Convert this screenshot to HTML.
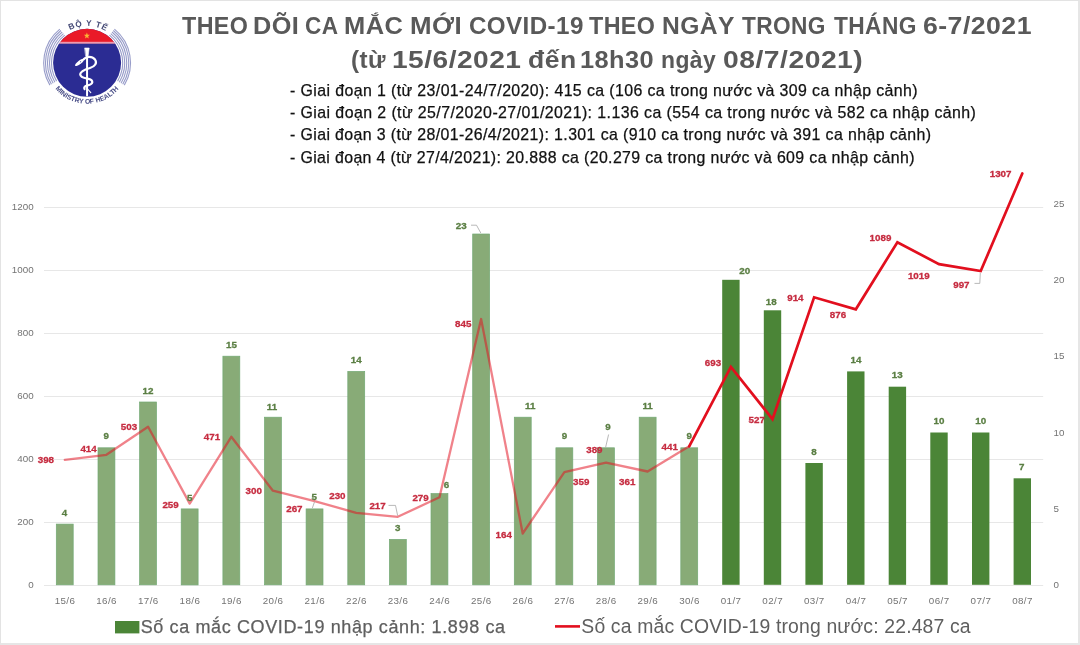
<!DOCTYPE html>
<html lang="vi">
<head>
<meta charset="utf-8">
<title>Theo dõi ca mắc mới COVID-19</title>
<style>
html,body{margin:0;padding:0;}
body{width:1080px;height:645px;overflow:hidden;background:#fff;font-family:"Liberation Sans",sans-serif;}
.frame{position:absolute;left:0;top:0;width:1080px;height:645px;box-sizing:border-box;background:#fff;
  border-top:1px solid #e3e3e3;border-left:1.5px solid #e3e3e3;border-right:2px solid #e6e6e6;border-bottom:2.5px solid #e6e6e6;}
#wrap{position:absolute;left:0;top:0;width:1080px;height:645px;will-change:transform;filter:blur(0.4px);}
.chart{position:absolute;left:0;top:0;}
.chart text{font-family:"Liberation Sans",sans-serif;}
.ax{font-size:9.8px;fill:#737373;}
.xl{letter-spacing:0.4px;}
.dl{font-size:9.8px;font-weight:bold;stroke-width:0.3px;}
.g{fill:#5b7f44;stroke:#5b7f44;}
.r{fill:#c62c40;stroke:#c62c40;}
.t{position:absolute;white-space:nowrap;transform-origin:0 0;line-height:1;}
.title{font-weight:bold;color:#595959;font-size:23px;}
.body{color:#111;font-size:15.8px;-webkit-text-stroke:0.25px #111;}
.leg{color:#5f5f5f;font-size:18px;}
#l1{-webkit-text-stroke:0.25px #5f5f5f;}
.logo{position:absolute;left:32px;top:13px;}
</style>
</head>
<body>
<div id="wrap">
<div class="frame"></div>
<svg class="logo" width="110" height="100" viewBox="32 13 110 100">
<defs>
<clipPath id="disc"><circle cx="87.1" cy="62.8" r="34"/></clipPath>
<path id="arcTop" d="M 55.14 44.35 A 36.9 36.9 0 0 1 119.06 44.35"/>
<path id="arcBot" d="M 48.57 76.82 A 41.0 41.0 0 0 0 125.63 76.82"/>
</defs>
<g fill="none" stroke="#979cc9" stroke-width="1.1">
<path d="M 64.70 35.13 A 35.6 35.6 0 0 0 56.58 81.14"/>
<path d="M 109.50 35.13 A 35.6 35.6 0 0 1 117.62 81.14"/>
<path d="M 63.44 33.58 A 37.6 37.6 0 0 0 54.87 82.17"/>
<path d="M 110.76 33.58 A 37.6 37.6 0 0 1 119.33 82.17"/>
<path d="M 62.18 32.03 A 39.6 39.6 0 0 0 53.16 83.20"/>
<path d="M 112.02 32.03 A 39.6 39.6 0 0 1 121.04 83.20"/>
<path d="M 60.92 30.47 A 41.6 41.6 0 0 0 51.44 84.23"/>
<path d="M 113.28 30.47 A 41.6 41.6 0 0 1 122.76 84.23"/>
<path d="M 59.79 29.07 A 43.4 43.4 0 0 0 49.90 85.15"/>
<path d="M 114.41 29.07 A 43.4 43.4 0 0 1 124.30 85.15"/>
</g>
<g clip-path="url(#disc)">
<rect x="50" y="25" width="80" height="80" fill="#2b2c93"/>
<rect x="50" y="25" width="80" height="17" fill="#ea1a28"/>
<rect x="50" y="41.8" width="80" height="1.9" fill="#ee9aae"/>
</g>
<polygon fill="#fbb434" points="86.90,32.60 87.69,34.71 89.94,34.81 88.18,36.22 88.78,38.39 86.90,37.15 85.02,38.39 85.62,36.22 83.86,34.81 86.11,34.71"/>
<g fill="none" stroke="#fff" stroke-linecap="round" stroke-linejoin="round">
<path d="M 87.05 50 L 87.05 95.6" stroke-width="2"/>
<path d="M 84.9 48 L 89.2 48 L 88.1 56 L 86 56 Z" fill="#fff" stroke-width="0.6"/>
<path d="M 84 59 C 86 56.3, 92 55.8, 95 59.5 C 97.4 63, 95 66.5, 90 68 C 85 69.5, 80.5 71, 80.2 74.2 C 80.2 77, 84 78, 87.5 78.6 C 91 79.3, 92.5 80.5, 92.3 82.3 C 92 84.3, 89 85, 87 85.6 C 84.5 86.4, 83.6 87.6, 84.6 89" stroke-width="2.2"/>
<path d="M 87.6 89 L 90.8 92.6" stroke-width="1.1"/>
</g>
<ellipse cx="79.6" cy="62.4" rx="5.6" ry="1.75" fill="#fff" transform="rotate(-37.5 79.6 62.4)"/>
<circle cx="80.6" cy="61.7" r="0.55" fill="#2b2c93"/>
<text font-family="Liberation Sans, sans-serif" font-size="8.2" font-weight="bold" fill="#454a76"><textPath href="#arcTop" startOffset="51%" text-anchor="middle" textLength="37.4" lengthAdjust="spacing">BỘ Y TẾ</textPath></text>
<text font-family="Liberation Sans, sans-serif" font-size="6.9" font-weight="bold" fill="#474c86"><textPath href="#arcBot" startOffset="50%" text-anchor="middle" textLength="72.3" lengthAdjust="spacingAndGlyphs">MINISTRY OF HEALTH</textPath></text>
</svg>

<span class="t title" id="w0" style="left:181.50px;top:15.00px;font-size:23.0px;letter-spacing:0.4px;transform:scaleX(1.0126);">THEO</span>
<span class="t title" id="w1" style="left:252.50px;top:15.00px;font-size:23.0px;letter-spacing:0.4px;transform:scaleX(1.0982);">DÕI</span>
<span class="t title" id="w2" style="left:305.00px;top:15.00px;font-size:23.0px;letter-spacing:0.4px;transform:scaleX(0.9813);">CA</span>
<span class="t title" id="w3" style="left:344.00px;top:15.00px;font-size:23.0px;letter-spacing:0.4px;transform:scaleX(1.1062);">MẮC</span>
<span class="t title" id="w4" style="left:409.50px;top:15.00px;font-size:23.0px;letter-spacing:0.4px;transform:scaleX(1.1239);">MỚI</span>
<span class="t title" id="w5" style="left:469.00px;top:15.00px;font-size:23.0px;letter-spacing:0.4px;transform:scaleX(1.0505);">COVID-19</span>
<span class="t title" id="w6" style="left:589.00px;top:15.00px;font-size:23.0px;letter-spacing:0.4px;transform:scaleX(1.0131);">THEO</span>
<span class="t title" id="w7" style="left:662.00px;top:15.00px;font-size:23.0px;letter-spacing:0.4px;transform:scaleX(1.0708);">NGÀY</span>
<span class="t title" id="w8" style="left:742.00px;top:15.00px;font-size:23.0px;letter-spacing:0.4px;transform:scaleX(0.9856);">TRONG</span>
<span class="t title" id="w9" style="left:833.50px;top:15.00px;font-size:23.0px;letter-spacing:0.4px;transform:scaleX(0.9879);">THÁNG</span>
<span class="t title" id="w10" style="left:922.50px;top:15.00px;font-size:23.0px;letter-spacing:0.4px;transform:scaleX(1.1587);">6-7/2021</span>
<span class="t title" id="w11" style="left:350.50px;top:49.40px;font-size:23.0px;letter-spacing:0.4px;transform:scaleX(1.0503);">(từ</span>
<span class="t title" id="w12" style="left:392.00px;top:49.40px;font-size:23.0px;letter-spacing:0.4px;transform:scaleX(1.2214);">15/6/2021</span>
<span class="t title" id="w13" style="left:527.50px;top:49.40px;font-size:23.0px;letter-spacing:0.4px;transform:scaleX(1.1538);">đến</span>
<span class="t title" id="w14" style="left:580.00px;top:49.40px;font-size:23.0px;letter-spacing:0.4px;transform:scaleX(1.1031);">18h30</span>
<span class="t title" id="w15" style="left:661.00px;top:49.40px;font-size:23.0px;letter-spacing:0.4px;transform:scaleX(0.9963);">ngày</span>
<span class="t title" id="w16" style="left:722.50px;top:49.40px;font-size:23.0px;letter-spacing:0.4px;transform:scaleX(1.2307);">08/7/2021)</span>
<div class="t body" id="b1" style="left:290px;top:82.60px;font-size:15.9px;letter-spacing:0.399px;">- Giai đoạn 1 (từ 23/01-24/7/2020): 415 ca (106 ca trong nước và 309 ca nhập cảnh)</div>
<div class="t body" id="b2" style="left:290px;top:104.90px;font-size:15.9px;letter-spacing:0.427px;">- Giai đoạn 2 (từ 25/7/2020-27/01/2021): 1.136 ca (554 ca trong nước và 582 ca nhập cảnh)</div>
<div class="t body" id="b3" style="left:290px;top:127.20px;font-size:15.9px;letter-spacing:0.391px;">- Giai đoạn 3 (từ 28/01-26/4/2021): 1.301 ca (910 ca trong nước và 391 ca nhập cảnh)</div>
<div class="t body" id="b4" style="left:290px;top:149.60px;font-size:15.9px;letter-spacing:0.371px;">- Giai đoạn 4 (từ 27/4/2021): 20.888 ca (20.279 ca trong nước và 609 ca nhập cảnh)</div>
<svg class="chart" width="1080" height="645" viewBox="0 0 1080 645">
<line x1="44.0" y1="585.5" x2="1043.2" y2="585.5" stroke="#e7e7e7" stroke-width="1"/>
<line x1="44.0" y1="522.5" x2="1043.2" y2="522.5" stroke="#e7e7e7" stroke-width="1"/>
<line x1="44.0" y1="459.5" x2="1043.2" y2="459.5" stroke="#e7e7e7" stroke-width="1"/>
<line x1="44.0" y1="396.5" x2="1043.2" y2="396.5" stroke="#e7e7e7" stroke-width="1"/>
<line x1="44.0" y1="333.5" x2="1043.2" y2="333.5" stroke="#e7e7e7" stroke-width="1"/>
<line x1="44.0" y1="270.5" x2="1043.2" y2="270.5" stroke="#e7e7e7" stroke-width="1"/>
<line x1="44.0" y1="207.5" x2="1043.2" y2="207.5" stroke="#e7e7e7" stroke-width="1"/>
<rect x="56.3" y="524.1" width="16.9" height="60.7" fill="#88ab77" stroke="#72a974" stroke-width="0.7"/>
<rect x="98.0" y="447.8" width="16.9" height="137.0" fill="#88ab77" stroke="#72a974" stroke-width="0.7"/>
<rect x="139.6" y="402.0" width="16.9" height="182.8" fill="#88ab77" stroke="#72a974" stroke-width="0.7"/>
<rect x="181.2" y="508.9" width="16.9" height="76.0" fill="#88ab77" stroke="#72a974" stroke-width="0.7"/>
<rect x="222.9" y="356.2" width="16.9" height="228.6" fill="#88ab77" stroke="#72a974" stroke-width="0.7"/>
<rect x="264.5" y="417.2" width="16.9" height="167.6" fill="#88ab77" stroke="#72a974" stroke-width="0.7"/>
<rect x="306.1" y="508.9" width="16.9" height="76.0" fill="#88ab77" stroke="#72a974" stroke-width="0.7"/>
<rect x="347.8" y="371.4" width="16.9" height="213.4" fill="#88ab77" stroke="#72a974" stroke-width="0.7"/>
<rect x="389.4" y="539.4" width="16.9" height="45.4" fill="#88ab77" stroke="#72a974" stroke-width="0.7"/>
<rect x="431.0" y="493.6" width="16.9" height="91.2" fill="#88ab77" stroke="#72a974" stroke-width="0.7"/>
<rect x="472.7" y="234.0" width="16.9" height="350.8" fill="#88ab77" stroke="#72a974" stroke-width="0.7"/>
<rect x="514.3" y="417.2" width="16.9" height="167.6" fill="#88ab77" stroke="#72a974" stroke-width="0.7"/>
<rect x="555.9" y="447.8" width="16.9" height="137.0" fill="#88ab77" stroke="#72a974" stroke-width="0.7"/>
<rect x="597.5" y="447.8" width="16.9" height="137.0" fill="#88ab77" stroke="#72a974" stroke-width="0.7"/>
<rect x="639.2" y="417.2" width="16.9" height="167.6" fill="#88ab77" stroke="#72a974" stroke-width="0.7"/>
<rect x="680.8" y="447.8" width="16.9" height="137.0" fill="#88ab77" stroke="#72a974" stroke-width="0.7"/>
<rect x="722.2" y="279.8" width="17.4" height="305.0" fill="#4b8537"/>
<rect x="763.8" y="310.3" width="17.4" height="274.5" fill="#4b8537"/>
<rect x="805.4" y="463.0" width="17.4" height="121.8" fill="#4b8537"/>
<rect x="847.1" y="371.4" width="17.4" height="213.4" fill="#4b8537"/>
<rect x="888.7" y="386.7" width="17.4" height="198.1" fill="#4b8537"/>
<rect x="930.3" y="432.5" width="17.4" height="152.3" fill="#4b8537"/>
<rect x="972.0" y="432.5" width="17.4" height="152.3" fill="#4b8537"/>
<rect x="1013.6" y="478.3" width="17.4" height="106.5" fill="#4b8537"/>
<polyline points="64.8,459.8 106.4,454.8 148.1,426.8 189.7,503.6 231.3,436.8 272.9,490.7 314.6,501.1 356.2,512.8 397.8,516.8 439.5,497.3 481.1,319.0 522.7,533.5 564.4,472.1 606.0,462.7 647.6,471.5 689.2,446.3" fill="none" stroke="#e20f1e" stroke-opacity="0.52" stroke-width="2.3" stroke-linejoin="round" stroke-linecap="round"/>
<polyline points="689.2,446.3 730.9,366.9 772.5,419.2 814.1,297.3 855.8,309.3 897.4,242.2 939.0,264.2 980.7,271.1 1022.3,173.5" fill="none" stroke="#e20f1e" stroke-width="2.7" stroke-linejoin="miter" stroke-linecap="round"/>
<polyline points="471,225.2 476.5,225.2 480.8,233" fill="none" stroke="#a6a6a6" stroke-width="0.8"/>
<polyline points="388.5,505.4 395.5,505.4 397.7,515.8" fill="none" stroke="#a6a6a6" stroke-width="0.8"/>
<polyline points="974.5,283.4 979.8,283.4 980.3,273" fill="none" stroke="#a6a6a6" stroke-width="0.8"/>
<polyline points="608.6,434.5 605.6,447.4" fill="none" stroke="#a6a6a6" stroke-width="0.8"/>
<polyline points="314.6,501.6 312.3,508.2" fill="none" stroke="#a6a6a6" stroke-width="0.8"/>
<text class="ax" x="33.6" y="588.0" text-anchor="end">0</text>
<text class="ax" x="33.6" y="525.0" text-anchor="end">200</text>
<text class="ax" x="33.6" y="462.0" text-anchor="end">400</text>
<text class="ax" x="33.6" y="399.0" text-anchor="end">600</text>
<text class="ax" x="33.6" y="336.0" text-anchor="end">800</text>
<text class="ax" x="33.6" y="273.0" text-anchor="end">1000</text>
<text class="ax" x="33.6" y="210.0" text-anchor="end">1200</text>
<text class="ax" x="1053.6" y="588.2">0</text>
<text class="ax" x="1053.6" y="511.9">5</text>
<text class="ax" x="1053.6" y="435.5">10</text>
<text class="ax" x="1053.6" y="359.2">15</text>
<text class="ax" x="1053.6" y="282.8">20</text>
<text class="ax" x="1053.6" y="206.5">25</text>
<text class="ax xl" x="65.0" y="603.5" text-anchor="middle">15/6</text>
<text class="ax xl" x="106.6" y="603.5" text-anchor="middle">16/6</text>
<text class="ax xl" x="148.3" y="603.5" text-anchor="middle">17/6</text>
<text class="ax xl" x="189.9" y="603.5" text-anchor="middle">18/6</text>
<text class="ax xl" x="231.5" y="603.5" text-anchor="middle">19/6</text>
<text class="ax xl" x="273.1" y="603.5" text-anchor="middle">20/6</text>
<text class="ax xl" x="314.8" y="603.5" text-anchor="middle">21/6</text>
<text class="ax xl" x="356.4" y="603.5" text-anchor="middle">22/6</text>
<text class="ax xl" x="398.0" y="603.5" text-anchor="middle">23/6</text>
<text class="ax xl" x="439.7" y="603.5" text-anchor="middle">24/6</text>
<text class="ax xl" x="481.3" y="603.5" text-anchor="middle">25/6</text>
<text class="ax xl" x="522.9" y="603.5" text-anchor="middle">26/6</text>
<text class="ax xl" x="564.6" y="603.5" text-anchor="middle">27/6</text>
<text class="ax xl" x="606.2" y="603.5" text-anchor="middle">28/6</text>
<text class="ax xl" x="647.8" y="603.5" text-anchor="middle">29/6</text>
<text class="ax xl" x="689.5" y="603.5" text-anchor="middle">30/6</text>
<text class="ax xl" x="731.1" y="603.5" text-anchor="middle">01/7</text>
<text class="ax xl" x="772.7" y="603.5" text-anchor="middle">02/7</text>
<text class="ax xl" x="814.3" y="603.5" text-anchor="middle">03/7</text>
<text class="ax xl" x="856.0" y="603.5" text-anchor="middle">04/7</text>
<text class="ax xl" x="897.6" y="603.5" text-anchor="middle">05/7</text>
<text class="ax xl" x="939.2" y="603.5" text-anchor="middle">06/7</text>
<text class="ax xl" x="980.9" y="603.5" text-anchor="middle">07/7</text>
<text class="ax xl" x="1022.5" y="603.5" text-anchor="middle">08/7</text>
<text class="dl g" x="64.6" y="516" text-anchor="middle">4</text>
<text class="dl g" x="106.2" y="439" text-anchor="middle">9</text>
<text class="dl g" x="148.0" y="394" text-anchor="middle">12</text>
<text class="dl g" x="189.8" y="501" text-anchor="middle">5</text>
<text class="dl g" x="231.4" y="348" text-anchor="middle">15</text>
<text class="dl g" x="271.9" y="410" text-anchor="middle">11</text>
<text class="dl g" x="314.3" y="500" text-anchor="middle">5</text>
<text class="dl g" x="356.2" y="363" text-anchor="middle">14</text>
<text class="dl g" x="397.7" y="531" text-anchor="middle">3</text>
<text class="dl g" x="446.6" y="488" text-anchor="middle">6</text>
<text class="dl g" x="461.3" y="229" text-anchor="middle">23</text>
<text class="dl g" x="530.3" y="409" text-anchor="middle">11</text>
<text class="dl g" x="564.6" y="439" text-anchor="middle">9</text>
<text class="dl g" x="608.1" y="430" text-anchor="middle">9</text>
<text class="dl g" x="647.6" y="409" text-anchor="middle">11</text>
<text class="dl g" x="689.2" y="439" text-anchor="middle">9</text>
<text class="dl g" x="744.7" y="274" text-anchor="middle">20</text>
<text class="dl g" x="771.3" y="305" text-anchor="middle">18</text>
<text class="dl g" x="814.0" y="455" text-anchor="middle">8</text>
<text class="dl g" x="855.9" y="363" text-anchor="middle">14</text>
<text class="dl g" x="897.2" y="378" text-anchor="middle">13</text>
<text class="dl g" x="939.0" y="424" text-anchor="middle">10</text>
<text class="dl g" x="980.8" y="424" text-anchor="middle">10</text>
<text class="dl g" x="1021.8" y="470" text-anchor="middle">7</text>
<text class="dl r" x="45.9" y="463" text-anchor="middle">398</text>
<text class="dl r" x="88.6" y="452" text-anchor="middle">414</text>
<text class="dl r" x="129.0" y="430" text-anchor="middle">503</text>
<text class="dl r" x="170.6" y="508" text-anchor="middle">259</text>
<text class="dl r" x="212.0" y="440" text-anchor="middle">471</text>
<text class="dl r" x="253.8" y="494" text-anchor="middle">300</text>
<text class="dl r" x="294.4" y="512" text-anchor="middle">267</text>
<text class="dl r" x="337.4" y="499" text-anchor="middle">230</text>
<text class="dl r" x="377.6" y="509" text-anchor="middle">217</text>
<text class="dl r" x="420.6" y="501" text-anchor="middle">279</text>
<text class="dl r" x="463.3" y="327" text-anchor="middle">845</text>
<text class="dl r" x="503.8" y="538" text-anchor="middle">164</text>
<text class="dl r" x="581.3" y="485" text-anchor="middle">359</text>
<text class="dl r" x="594.4" y="453" text-anchor="middle">389</text>
<text class="dl r" x="627.3" y="485" text-anchor="middle">361</text>
<text class="dl r" x="669.8" y="450" text-anchor="middle">441</text>
<text class="dl r" x="713.0" y="366" text-anchor="middle">693</text>
<text class="dl r" x="756.7" y="423" text-anchor="middle">527</text>
<text class="dl r" x="795.4" y="301" text-anchor="middle">914</text>
<text class="dl r" x="838.0" y="318" text-anchor="middle">876</text>
<text class="dl r" x="880.5" y="241" text-anchor="middle">1089</text>
<text class="dl r" x="918.8" y="279" text-anchor="middle">1019</text>
<text class="dl r" x="961.4" y="288" text-anchor="middle">997</text>
<text class="dl r" x="1000.6" y="177" text-anchor="middle">1307</text>
<rect x="115" y="621" width="24.4" height="12.4" fill="#4b8537"/>
<line x1="555" y1="626.4" x2="580" y2="626.4" stroke="#e20f1e" stroke-width="2.6"/>
</svg>
<div class="t leg" id="l1" style="left:140.7px;top:618.05px;font-size:18.0px;letter-spacing:0.626px;">Số ca mắc COVID-19 nhập cảnh: 1.898 ca</div>
<div class="t leg" id="l2" style="left:581.3px;top:617.19px;font-size:19.4px;letter-spacing:0.149px;">Số ca mắc COVID-19 trong nước: 22.487 ca</div>
</div>
</body>
</html>
